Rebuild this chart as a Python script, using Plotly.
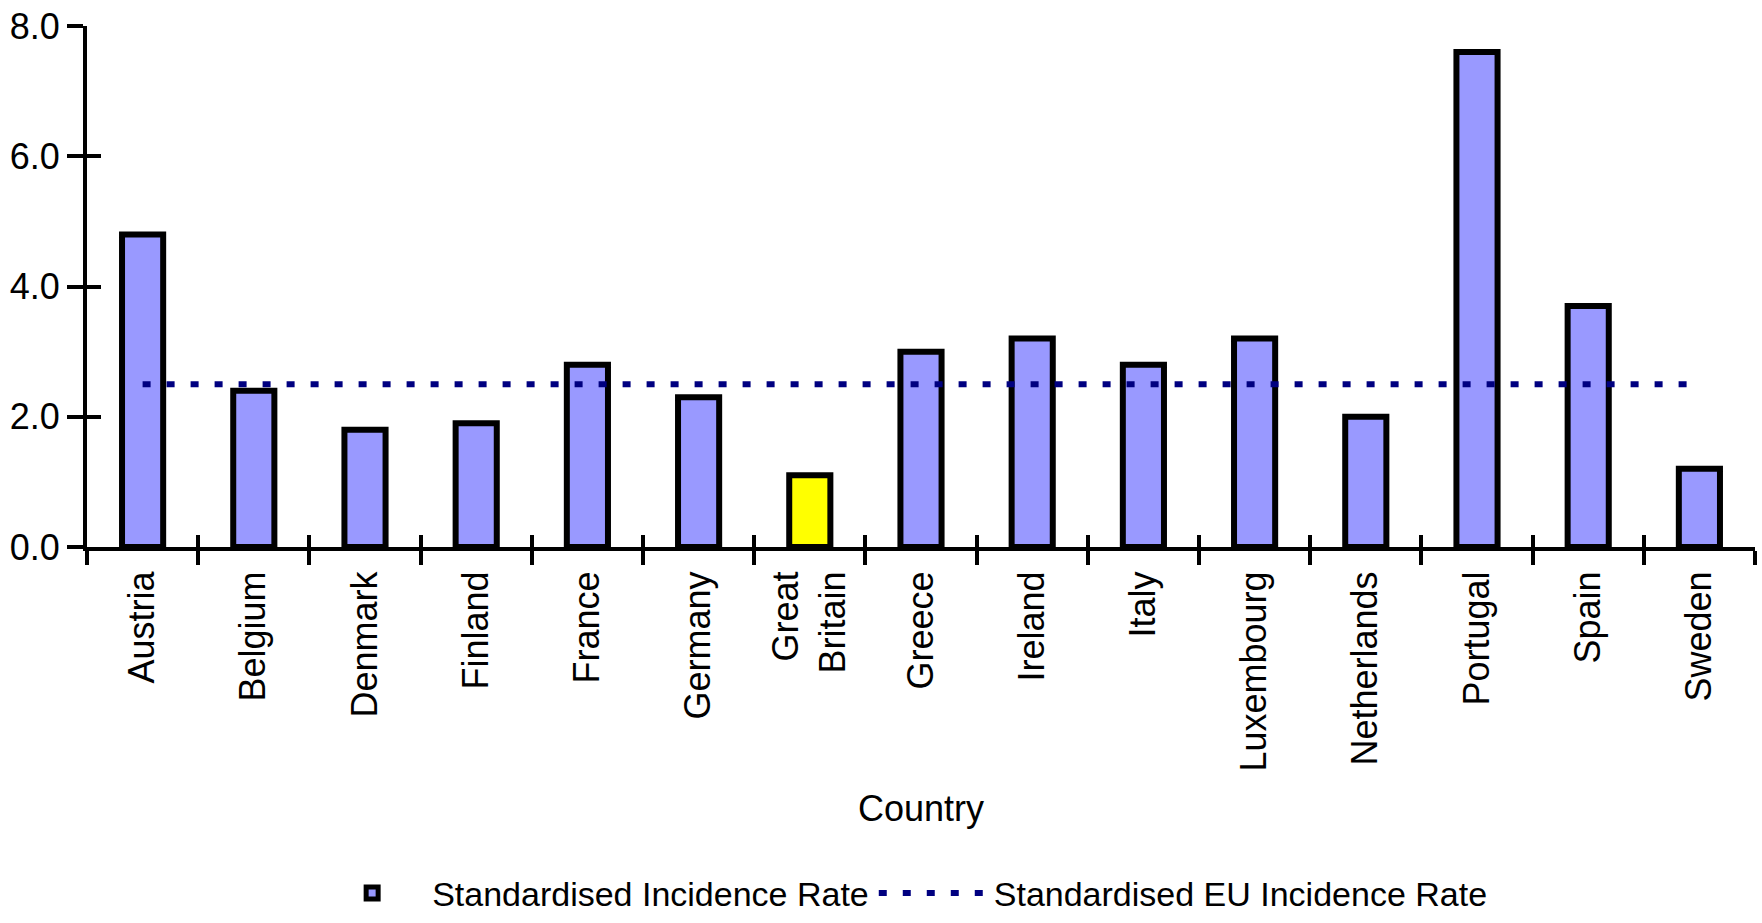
import plotly.graph_objects as go

countries = ["Austria", "Belgium", "Denmark", "Finland", "France", "Germany",
             "Great<br>Britain", "Greece", "Ireland", "Italy", "Luxembourg",
             "Netherlands", "Portugal", "Spain", "Sweden"]
incidence = [4.8, 2.4, 1.8, 1.9, 2.8, 2.3, 1.1, 3.0, 3.2, 2.8, 3.2, 2.0, 7.6, 3.7, 1.2]
eu_rate = [2.5] * len(countries)
y_ticks = [0, 2, 4, 6, 8]

bar_colors = ["#FFFF00" if c.startswith("Great") else "#9999FF" for c in countries]

FONT = "Liberation Sans, Arial, sans-serif"

fig = go.Figure()
fig.add_trace(go.Bar(
    x=countries, y=incidence, name="Standardised Incidence Rate",
    marker=dict(color=bar_colors, line=dict(color="black", width=6)),
    width=0.37,
))
fig.add_trace(go.Scatter(
    x=countries, y=eu_rate, name="Standardised EU Incidence Rate",
    mode="lines", line=dict(color="#000080", width=6, dash="8px,16px"),
))
# invisible helper trace for inner half of crossing ticks
fig.add_trace(go.Scatter(x=countries, y=[None] * len(countries), xaxis="x2", yaxis="y2",
                         showlegend=False, hoverinfo="skip"))

axis_common = dict(showline=True, linecolor="black", linewidth=4, showgrid=False,
                   zeroline=False, tickcolor="black", tickwidth=4, automargin=False)

fig.update_layout(
    width=1762, height=923,
    margin=dict(l=87, r=7, t=26, b=376, autoexpand=False),
    paper_bgcolor="white", plot_bgcolor="white",
    font=dict(family=FONT, size=36, color="black"),
    xaxis=dict(**axis_common, type="category", tickangle=-90, ticks="outside", ticklen=14,
               tickson="boundaries", range=[-0.5, 14.5], ticklabelstandoff=6,
               title=dict(text="Country", standoff=26, font=dict(size=36))),
    yaxis=dict(**axis_common, range=[0, 8], tickvals=y_ticks, tickformat=".1f",
               ticks="outside", ticklen=16),
    xaxis2=dict(overlaying="x", matches="x", anchor="y2", type="category", side="bottom",
                ticks="inside", ticklen=12, tickwidth=4, tickcolor="black",
                tickson="boundaries", showticklabels=False, showgrid=False,
                zeroline=False, showline=False, range=[-0.5, 14.5]),
    yaxis2=dict(overlaying="y", matches="y", anchor="x2", side="left", range=[0, 8],
                tickvals=y_ticks, ticks="inside", ticklen=14, tickwidth=4, tickcolor="black",
                showticklabels=False, showgrid=False, zeroline=False, showline=False),
    legend=dict(orientation="h", x=0.512, xref="container", xanchor="center",
                y=0.032, yref="container", yanchor="middle", itemwidth=110,
                font=dict(size=34), bgcolor="rgba(0,0,0,0)"),
    showlegend=True,
)

fig.write_html("out.html")
